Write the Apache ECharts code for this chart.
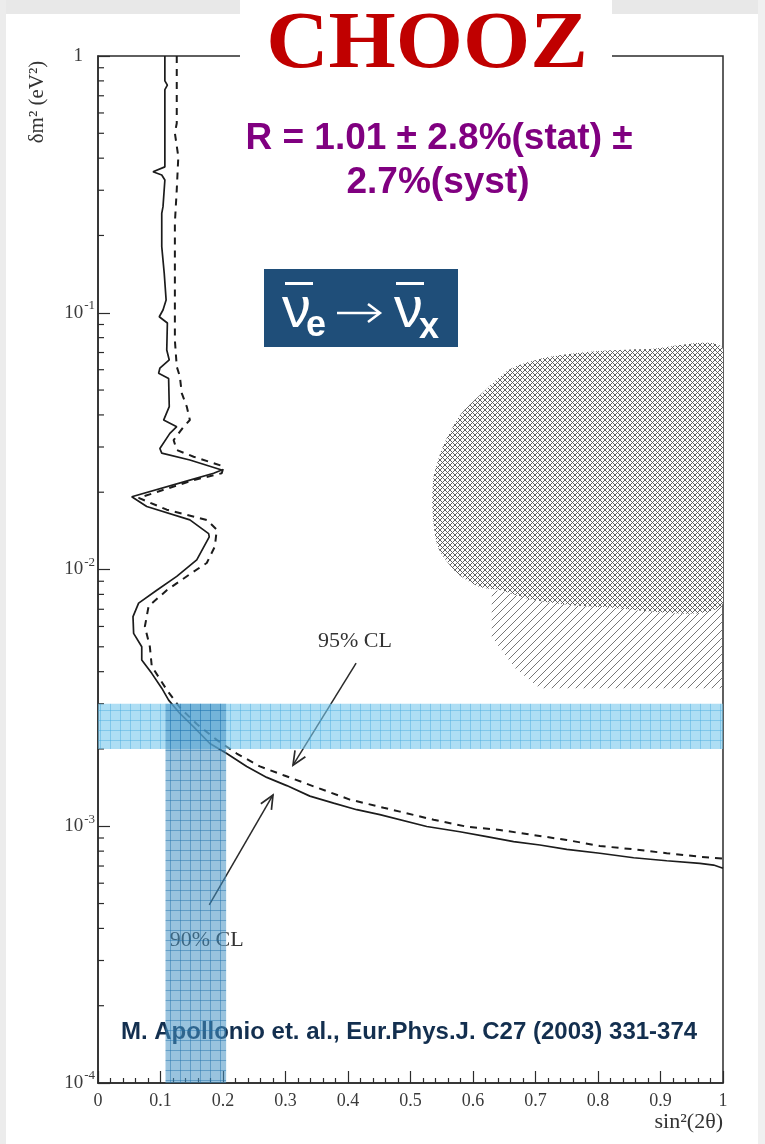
<!DOCTYPE html>
<html><head><meta charset="utf-8">
<script src="https://cdn.jsdelivr.net/npm/echarts@6/dist/echarts.min.js"></script>
<style>html,body{margin:0;padding:0;background:#fff}#c{width:765px;height:1144px}</style>
</head><body><div id="c"></div>
<script>
// ---- data: [sin^2(2θ), δm^2 (eV^2)] ----
const cl90 = [[0.107,1.0],[0.107,0.80],[0.111,0.77],[0.107,0.74],[0.107,0.37],[0.088,0.354],[0.102,0.344],[0.107,0.329],[0.104,0.259],[0.102,0.244],[0.102,0.181],[0.106,0.142],[0.109,0.112],[0.104,0.1025],[0.098,0.0965],[0.111,0.0912],[0.110,0.0716],[0.114,0.0655],[0.099,0.0608],[0.097,0.0581],[0.113,0.0555],[0.114,0.0431],[0.105,0.0382],[0.126,0.0360],[0.115,0.0339],[0.099,0.0296],[0.102,0.0284],[0.147,0.0267],[0.198,0.0244],[0.185,0.0237],[0.147,0.0223],[0.054,0.0192],[0.078,0.0176],[0.147,0.0156],[0.177,0.0138],[0.178,0.0134],[0.158,0.0109],[0.126,0.0094],[0.094,0.0083],[0.065,0.0074],[0.056,0.00655],[0.057,0.00564],[0.070,0.0050],[0.070,0.00444],[0.086,0.00394],[0.102,0.00345],[0.113,0.0031],[0.131,0.00275],[0.153,0.00244],[0.179,0.0021],[0.206,0.00192],[0.238,0.00171],[0.270,0.00155],[0.302,0.00144],[0.339,0.00131],[0.377,0.00123],[0.414,0.00116],[0.451,0.00111],[0.526,0.000998],[0.579,0.000952],[0.622,0.000911],[0.665,0.000871],[0.707,0.000845],[0.750,0.000813],[0.803,0.000785],[0.857,0.000754],[0.910,0.000734],[0.963,0.000717],[0.985,0.000706],[1.0,0.000686]];
const cl95 = [[0.126,1.0],[0.126,0.547],[0.123,0.501],[0.1285,0.405],[0.126,0.301],[0.123,0.224],[0.123,0.165],[0.123,0.0783],[0.126,0.0617],[0.131,0.0564],[0.134,0.0486],[0.142,0.0431],[0.147,0.0382],[0.137,0.0360],[0.121,0.0319],[0.126,0.0292],[0.153,0.0275],[0.201,0.0252],[0.198,0.0237],[0.153,0.0223],[0.065,0.0190],[0.110,0.0171],[0.174,0.0156],[0.190,0.0143],[0.187,0.0123],[0.174,0.0106],[0.150,0.0097],[0.110,0.0083],[0.081,0.0072],[0.075,0.0060],[0.083,0.0050],[0.086,0.0042],[0.110,0.0034],[0.131,0.0029],[0.158,0.0025],[0.190,0.00217],[0.222,0.00192],[0.259,0.00171],[0.297,0.00158],[0.345,0.00143],[0.403,0.00127],[0.457,0.00118],[0.483,0.00114],[0.537,0.00106],[0.590,0.000996],[0.643,0.000967],[0.697,0.000924],[0.750,0.000884],[0.803,0.000838],[0.857,0.000813],[0.910,0.000785],[0.963,0.000761],[1.0,0.000748]];
const excludedCross = [[1.0,0.0720],[0.880,0.0722],[0.787,0.0705],[0.715,0.0668],[0.660,0.0605],[0.616,0.0490],[0.579,0.0398],[0.552,0.0302],[0.537,0.0229],[0.535,0.0171],[0.544,0.0122],[0.574,0.0097],[0.611,0.00855],[0.643,0.00832],[0.696,0.00761],[0.803,0.00714],[1.0,0.00741]];
const excludedHatch = [[0.630,0.00818],[0.643,0.00832],[0.696,0.00761],[0.803,0.00714],[1.0,0.00741],[1.0,0.00345],[0.707,0.00345],[0.667,0.00413],[0.630,0.00546]];
const bandH = [0, 0.002, 1, 0.003];        // sin2 from, dm2 from, sin2 to, dm2 to
const bandV = [0.108, 0.0001, 0.205, 0.003];
const arrows = [[0.413,0.00432,0.312,0.00173],[0.178,0.000494,0.280,0.001324]];
const arrowLabels = [['95% CL',0.411,0.00527],['90% CL',0.174,0.00036]];
const xTickLabels = ['0','0.1','0.2','0.3','0.4','0.5','0.6','0.7','0.8','0.9','1'];
const yTickLabels = [['10','-4'],['10','-3'],['10','-2'],['10','-1'],['1','']];
const yMinorTicks = [2e-4,3e-4,4e-4,5e-4,6e-4,7e-4,8e-4,9e-4,2e-3,3e-3,4e-3,5e-3,6e-3,7e-3,8e-3,9e-3,0.02,0.03,0.04,0.05,0.06,0.07,0.08,0.09,0.2,0.3,0.4,0.5,0.6,0.7,0.8,0.9];

// ---- fill patterns ----
function tile(n, draw){const c=document.createElement('canvas');c.width=c.height=n;const g=c.getContext('2d');draw(g,n);return c;}
const crossTile = tile(5,(g,n)=>{g.fillStyle='#fff';g.fillRect(0,0,n,n);g.strokeStyle='#5a5a5a';g.lineWidth=0.95;
  for(const o of [-n,0,n]){g.beginPath();g.moveTo(o,0);g.lineTo(o+n,n);g.stroke();g.beginPath();g.moveTo(o,n);g.lineTo(o+n,0);g.stroke();}});
const hatchTile = tile(8,(g,n)=>{g.strokeStyle='#666';g.lineWidth=0.9;
  for(const o of [-n,0,n]){g.beginPath();g.moveTo(o,n);g.lineTo(o+n,0);g.stroke();}});
const hBandTile = tile(10,(g,n)=>{g.fillStyle='rgba(120,200,236,0.6)';g.fillRect(0,0,n,n);g.fillStyle='rgba(60,165,220,0.4)';g.fillRect(0,0,n,1);g.fillRect(0,0,1,n);});
const vBandTile = tile(10,(g,n)=>{g.fillStyle='rgba(70,145,195,0.55)';g.fillRect(0,0,n,n);g.fillStyle='rgba(30,110,170,0.45)';g.fillRect(0,0,n,1);g.fillRect(0,0,1,n);});

const serif = "'Liberation Serif','DejaVu Serif',serif";
const sans = "'Liberation Sans','Noto Sans',sans-serif";
const ink = '#2b2b2b';

function polygonSeries(points, pattern, smooth){
  return {type:'custom', coordinateSystem:'cartesian2d', z:2, silent:true, clip:true,
    data: points, encode:{x:0,y:1},
    renderItem:(params, api)=>{
      if(params.dataIndex!==0) return null;
      const pts = points.map(p=>api.coord(p));
      return {type:'polygon', shape:{points:pts, smooth:smooth||0}, style:{fill:{image:pattern, repeat:'repeat'}, lineWidth:0}};
    }};
}
function bandSeries(b, pattern){
  return {type:'custom', coordinateSystem:'cartesian2d', z:6, silent:true,
    data:[b], encode:{x:[0,2], y:[1,3]},
    renderItem:(params, api)=>{
      const p1 = api.coord([api.value(0), api.value(3)]);
      const p2 = api.coord([api.value(2), api.value(1)]);
      return {type:'rect', shape:{x:p1[0], y:p1[1], width:p2[0]-p1[0], height:p2[1]-p1[1]}, style:{fill:{image:pattern, repeat:'repeat'}}};
    }};
}

const chart = echarts.init(document.getElementById('c'), null, {renderer:'canvas', width:765, height:1144});
chart.setOption({
  animation:false,
  backgroundColor:'#ffffff',
  grid:{left:98, right:42, top:56, bottom:61, show:true, borderColor:ink, borderWidth:1.5, backgroundColor:'transparent'},
  xAxis:{type:'value', min:0, max:1, interval:0.1,
    axisLine:{show:true, lineStyle:{color:ink, width:1.5}},
    axisTick:{show:true, inside:true, length:12, lineStyle:{color:ink, width:1.2}},
    minorTick:{show:true, splitNumber:5, length:5, lineStyle:{color:ink, width:1.2}},
    axisLabel:{margin:9, color:'#3a3a3a', fontFamily:serif, fontSize:18, formatter:(v,i)=>xTickLabels[i]},
    splitLine:{show:false}},
  yAxis:{type:'log', logBase:10, min:1e-4, max:1,
    axisLine:{show:true, lineStyle:{color:ink, width:1.5}},
    axisTick:{show:true, inside:true, length:12, lineStyle:{color:ink, width:1.2}},
    axisLabel:{margin:3, color:'#3a3a3a', fontFamily:serif,
      formatter:(v,i)=>{const t=yTickLabels[i]; return t[1] ? '{b|'+t[0]+'}{s|'+t[1]+'}' : '{one|'+t[0]+'}';},
      rich:{b:{fontSize:19, fontFamily:serif, color:'#3a3a3a'},
            s:{fontSize:13, fontFamily:serif, color:'#3a3a3a', padding:[0,0,14,1]},
            one:{fontSize:19, fontFamily:serif, color:'#3a3a3a', padding:[0,12,0,0]}}},
    splitLine:{show:false}},
  series:[
    polygonSeries(excludedHatch, hatchTile, 0),
    polygonSeries(excludedCross, crossTile, 0.25),
    {type:'custom', coordinateSystem:'cartesian2d', z:3, silent:true, clip:false,
      data: yMinorTicks.map(v=>[0,v]), encode:{x:0,y:1},
      renderItem:(params, api)=>{const p=api.coord([api.value(0), api.value(1)]);
        return {type:'line', shape:{x1:p[0], y1:p[1], x2:p[0]+6, y2:p[1]}, style:{stroke:ink, lineWidth:1.2}};}},
    {name:'90% CL', type:'line', data:cl90, symbol:'none', z:4, lineStyle:{color:'#1c1c1c', width:1.7}},
    {name:'95% CL', type:'line', data:cl95, symbol:'none', z:4, lineStyle:{color:'#1c1c1c', width:2, type:[7,6]}},
    {type:'custom', coordinateSystem:'cartesian2d', z:4, silent:true,
      data: arrows, encode:{x:[0,2], y:[1,3]},
      renderItem:(params, api)=>{
        const a=api.coord([api.value(0), api.value(1)]), b=api.coord([api.value(2), api.value(3)]);
        const ang=Math.atan2(b[1]-a[1], b[0]-a[0]), L=15, w=0.42;
        const h1=[b[0]-L*Math.cos(ang-w), b[1]-L*Math.sin(ang-w)], h2=[b[0]-L*Math.cos(ang+w), b[1]-L*Math.sin(ang+w)];
        return {type:'group', children:[
          {type:'line', shape:{x1:a[0],y1:a[1],x2:b[0],y2:b[1]}, style:{stroke:'#2a2a2a', lineWidth:1.5}},
          {type:'polyline', shape:{points:[h1,b,h2]}, style:{stroke:'#2a2a2a', lineWidth:1.7, fill:null}}]};
      }},
    {type:'custom', coordinateSystem:'cartesian2d', z:4, silent:true,
      data: arrowLabels.map(l=>[l[1], l[2]]), encode:{x:0,y:1},
      renderItem:(params, api)=>{const p=api.coord([api.value(0), api.value(1)]);
        return {type:'text', x:p[0], y:p[1], style:{text:arrowLabels[params.dataIndex][0], fontFamily:serif, fontSize:22, fill:'#333', align:'center', verticalAlign:'middle'}};}},
    bandSeries(bandH, hBandTile),
    bandSeries(bandV, vBandTile)
  ],
  graphic:[
    {type:'rect', z:-10, shape:{x:0,y:0,width:765,height:14}, style:{fill:'#e8e8e8'}},
    {type:'rect', z:-10, shape:{x:0,y:0,width:6,height:1144}, style:{fill:'#ececec'}},
    {type:'rect', z:-10, shape:{x:758,y:0,width:7,height:1144}, style:{fill:'#f0f0f0'}},
    {type:'text', z:1, x:37, y:102, rotation:Math.PI/2, style:{text:'δm² (eV²)', fontFamily:serif, fontSize:21, fill:'#333', align:'center', verticalAlign:'middle'}},
    {type:'text', z:1, x:723, y:1122, style:{text:'sin²(2θ)', fontFamily:serif, fontSize:22, fill:'#333', align:'right', verticalAlign:'middle'}},
    {type:'text', z:1, x:409, y:1032, style:{text:'M. Apollonio et. al., Eur.Phys.J. C27 (2003) 331-374', fontFamily:sans, fontWeight:'bold', fontSize:24, fill:'#132f4f', align:'center', verticalAlign:'middle'}},
    {type:'rect', z:20, shape:{x:240,y:0,width:372,height:80}, style:{fill:'#ffffff'}},
    {type:'text', z:21, x:427, y:46, scaleX:1.08, style:{text:'CHOOZ', fontFamily:serif, fontWeight:'bold', fontSize:80, fill:'#c00000', align:'center', verticalAlign:'middle'}},
    {type:'text', z:21, x:439, y:139, style:{text:'R = 1.01 ± 2.8%(stat) ±', fontFamily:sans, fontWeight:'bold', fontSize:37, fill:'#800080', align:'center', verticalAlign:'middle'}},
    {type:'text', z:21, x:438, y:183, style:{text:'2.7%(syst)', fontFamily:sans, fontWeight:'bold', fontSize:37, fill:'#800080', align:'center', verticalAlign:'middle'}},
    {type:'rect', z:21, shape:{x:264,y:269,width:194,height:78}, style:{fill:'#1f4e79'}},
    {type:'text', z:22, x:282, y:311, style:{text:'ν', fontFamily:sans, fontSize:58, fill:'#fff', align:'left', verticalAlign:'middle'}},
    {type:'text', z:22, x:306, y:326, style:{text:'e', fontFamily:sans, fontWeight:'bold', fontSize:36, fill:'#fff', align:'left', verticalAlign:'middle'}},
    {type:'text', z:22, x:394, y:311, style:{text:'ν', fontFamily:sans, fontSize:58, fill:'#fff', align:'left', verticalAlign:'middle'}},
    {type:'text', z:22, x:419, y:328, style:{text:'x', fontFamily:sans, fontWeight:'bold', fontSize:36, fill:'#fff', align:'left', verticalAlign:'middle'}},
    {type:'rect', z:22, shape:{x:285,y:282,width:28,height:3}, style:{fill:'#fff'}},
    {type:'rect', z:22, shape:{x:396,y:282,width:28,height:3}, style:{fill:'#fff'}},
    {type:'line', z:22, shape:{x1:337,y1:313,x2:379,y2:313}, style:{stroke:'#fff', lineWidth:2.5}},
    {type:'polyline', z:22, shape:{points:[[368,304],[380,313],[368,322]]}, style:{stroke:'#fff', lineWidth:2.5, fill:null}}
  ]
});
</script></body></html>
